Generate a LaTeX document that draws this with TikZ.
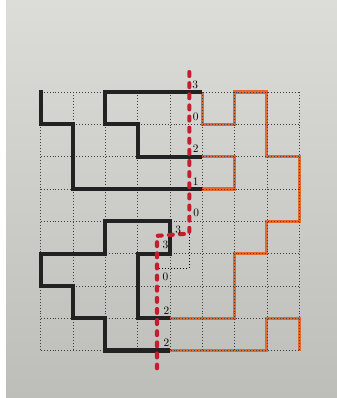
\documentclass[tikz,border=0pt]{standalone}
\definecolor{paper}{HTML}{DCDDD9}
\definecolor{paperdark}{HTML}{BDBEBA}
\definecolor{ink}{HTML}{222222}
\definecolor{marker}{HTML}{E26A30}
\definecolor{cutred}{HTML}{C41E2E}
\tikzset{
  gridline/.style={dotted, line width=0.6pt, black!75},
  blackpath/.style={line width=3.6pt, ink},
  orangepath/.style={line width=2.8pt, marker},
  redcut/.style={line width=3.6pt, cutred, dash pattern=on 3.5pt off 6.3pt, line cap=round},
  every node/.style={inner sep=0pt, font=\normalsize}
}

\begin{document}
\begin{tikzpicture}[x=1cm, y=-1cm]
  \useasboundingbox (-1.26,-2.85) rectangle (9.17,9.47);
  \shade[top color=paper, bottom color=paperdark] (-1.26,-2.85) rectangle (9.17,9.47);
  \fill[white] (-1.26,-2.85) rectangle (-1.06,9.47);

  \draw[orangepath] (5,0) -- (5,1) -- (6,1) -- (6,0) -- (7,0) -- (7,2) -- (8,2) -- (8,4)
    -- (7,4) -- (7,5) -- (6,5) -- (6,7) -- (4,7);
  \draw[orangepath] (5,2) -- (6,2) -- (6,3) -- (5,3);
  \draw[orangepath] (4,8) -- (7,8) -- (7,7) -- (8,7) -- (8,8);

  \foreach \i in {0,...,8} {
    \draw[gridline] (\i,0) -- (\i,8);
    \draw[gridline] (0,\i) -- (8,\i);
  }

  \draw[blackpath] (0,-0.05) -- (0,1) -- (1,1) -- (1,3) -- (5,3);
  \draw[blackpath] (5,0) -- (2,0) -- (2,1) -- (3,1) -- (3,2) -- (5,2);
  \draw[blackpath] (4,7) -- (3,7) -- (3,5) -- (4,5) -- (4,4) -- (2,4) -- (2,5) -- (0,5)
    -- (0,6) -- (1,6) -- (1,7) -- (2,7) -- (2,8) -- (4,8);

  \coordinate (k1) at (4.6,-0.62);
  \coordinate (k2) at (4.6,4.38);
  \coordinate (k3) at (3.6,4.45);
  \coordinate (k4) at (3.6,8.55);
  \coordinate (k5) at (4.6,5.45);
  \coordinate (k6) at (3.6,5.45);

  \draw[dotted, line width=0.7pt] (k2) -- (k5) -- (k6);
  \draw[redcut] (k1) -- (k2) -- (k3) -- (k4);

  \node (n1) at (4.78,-0.23) {3};
  \node (n2) at (4.8,0.77) {0};
  \node (n3) at (4.8,1.76) {2};
  \node (n4) at (4.8,2.76) {1};
  \node (n5) at (4.81,3.75) {0};
  \node (n6) at (4.26,4.25) {3};
  \node (n7) at (3.86,4.74) {3};
  \node (n8) at (3.86,5.73) {0};
  \node (n9) at (3.89,6.76) {2};
  \node (n10) at (3.89,7.76) {2};
\end{tikzpicture}
\end{document}
